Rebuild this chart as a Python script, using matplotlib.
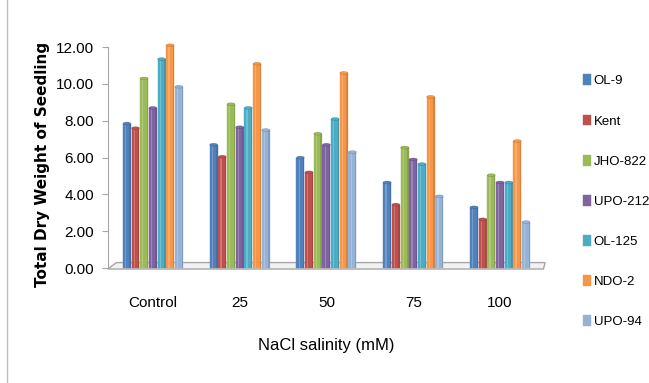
import matplotlib
matplotlib.use("Agg")
import matplotlib.pyplot as plt
from matplotlib.patches import Polygon, Rectangle, Ellipse
import numpy as np

# data
groups = ["Control", "25", "50", "75", "100"]
varieties = ["OL-9", "Kent", "JHO-822", "UPO-212", "OL-125", "NDO-2", "UPO-94"]
ol9 = [7.85, 6.7, 6.0, 4.65, 3.3]
kent = [7.6, 6.05, 5.2, 3.45, 2.65]
jho822 = [10.3, 8.9, 7.3, 6.55, 5.05]
upo212 = [8.7, 7.65, 6.7, 5.9, 4.65]
ol125 = [11.35, 8.7, 8.1, 5.65, 4.65]
ndo2 = [12.1, 11.1, 10.6, 9.3, 6.9]
upo94 = [9.85, 7.5, 6.3, 3.9, 2.5]
series = [ol9, kent, jho822, upo212, ol125, ndo2, upo94]
colors = ["#4F81BD", "#C0504D", "#9BBB59", "#8064A2", "#4BACC6", "#F79646", "#95B3D7"]
yticks = [0, 2, 4, 6, 8, 10, 12]

plt.rcParams['font.family'] = ['Liberation Sans', 'DejaVu Sans']

fig = plt.figure(figsize=(6.49, 3.83), dpi=100)
# outer chart frame
fig.patches.append(Rectangle((0.011, -0.01), 1.2, 1.2, transform=fig.transFigure,
                             fill=False, edgecolor="#bfbfbf", lw=1))

ax = fig.add_axes([0.166, 0.30, 0.674, 0.577])
x = np.arange(len(groups))
w = 0.1
for i, (vals, c) in enumerate(zip(series, colors)):
    xs = x + (i - 3) * w
    ax.bar(xs, vals, width=w * 0.92, color=c, label=varieties[i], zorder=3,
           edgecolor=c, linewidth=0.3, clip_on=False)
    # simple cylinder look: highlight strip and top cap
    for xx, v in zip(xs, vals):
        ax.add_patch(Rectangle((xx - w * 0.22, 0), w * 0.14, v, facecolor="white",
                               alpha=0.22, lw=0, zorder=4, clip_on=False))
        ax.add_patch(Rectangle((xx + w * 0.3, 0), w * 0.16, v, facecolor="black",
                               alpha=0.12, lw=0, zorder=4, clip_on=False))
        ax.add_patch(Ellipse((xx, v), w * 0.92, 0.16, facecolor=c, edgecolor="#00000033",
                             lw=0.4, zorder=5, clip_on=False))

# floor of the 3D plot
floor = Polygon([[-0.52, -0.05], [4.5, -0.05], [4.52, 0.3], [-0.42, 0.3]], closed=True,
                facecolor="#f2f2f2", edgecolor="#a6a6a6", lw=1, zorder=1, clip_on=False)
ax.add_patch(floor)

ax.set_xlim(-0.52, 4.52)
ax.set_ylim(0, 12)
ax.set_yticks(yticks)
ax.set_yticklabels(["%.2f" % t for t in yticks], fontsize=11)
ax.set_xticks(x)
ax.set_xticklabels(groups, fontsize=11)
ax.tick_params(axis="x", length=0, pad=20)
ax.tick_params(axis="y", length=4, color="#a6a6a6", pad=6)
for s in ["top", "right", "bottom"]:
    ax.spines[s].set_visible(False)
ax.spines["left"].set_color("#a6a6a6")

ax.set_xlabel("NaCl salinity (mM)", fontsize=12, labelpad=20)
fig.text(0.065, 0.57, "Total Dry Weight of Seedling", rotation=90, ha="center", va="center",
         fontsize=11, fontweight="bold", family="DejaVu Sans")

ax.legend(loc="upper left", bbox_to_anchor=(1.06, 0.93), frameon=False, fontsize=9.5,
          handlelength=0.6, handleheight=0.9, handletextpad=0.2, labelspacing=2.05)

fig.savefig("out.png", dpi=100)
